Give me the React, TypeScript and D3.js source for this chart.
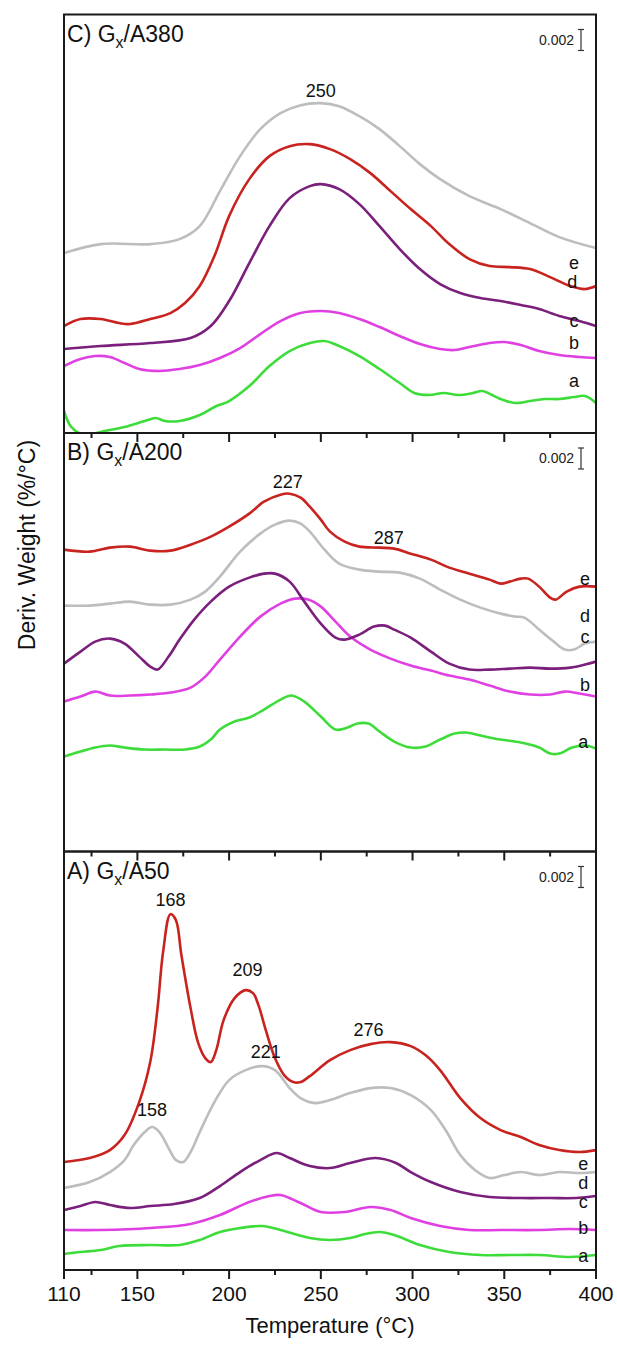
import React from 'react';
import * as d3 from 'd3';

// ---------- Axis / annotation data ----------
const T_DOMAIN: [number, number] = [110, 400];
const MAJOR_TICKS = [110, 150, 200, 250, 300, 350, 400];
const MINOR_TICKS = [125, 175, 225, 275, 325, 375];
// y values are stacked DTG signals in units where 21 units = 0.002 %/°C
const SCALE_BAR_VALUE = '0.002';
const SCALE_BAR_UNITS = 21;
const PANEL_Y_MAX = 418.7;

// ---------- Panel C) Gx/A380 ----------
const C_a = [[110,22],[114,6],[121,-2],[132,2],[143,6],[154,12],[160,15],[165,12],[173,12],[184,18],[192,26],[200,32],[211,47],[222,67],[233,82],[244,90],[252,92],[260,87],[271,77],[282,64],[293,50],[301,40],[309,38],[317,40],[325,38],[333,40],[338,42],[348,34],[356,30],[364,32],[372,34],[380,34],[388,36],[394,37],[400,30]];
const C_b = [[110,67],[119,74],[127,77],[135,76],[143,70],[151,64],[162,62],[173,64],[184,68],[195,75],[206,85],[217,99],[228,112],[239,120],[250,122],[260,120],[271,114],[282,106],[293,97],[304,89],[315,84],[323,83],[331,86],[342,90],[350,91],[359,88],[369,82],[380,78],[391,76],[400,75]];
const C_c = [[110,84],[130,87],[157,90],[179,95],[190,107],[200,132],[211,170],[222,207],[233,235],[244,247],[250,249],[260,244],[271,229],[282,207],[293,184],[304,164],[315,149],[326,140],[337,135],[348,132],[359,128],[369,124],[380,117],[391,112],[400,107]];
const C_d = [[110,107],[119,114],[130,114],[140,110],[146,109],[157,114],[168,120],[176,130],[184,147],[192,177],[200,217],[211,254],[222,277],[233,287],[244,289],[255,284],[266,274],[277,260],[288,242],[299,224],[310,207],[320,189],[331,174],[342,167],[353,166],[364,164],[375,156],[386,147],[394,144],[400,147]];
const C_e = [[110,180],[130,189],[157,189],[173,194],[184,207],[195,242],[206,277],[217,304],[228,320],[239,328],[250,330],[260,327],[271,317],[282,304],[293,287],[304,269],[315,254],[331,237],[348,224],[364,210],[380,196],[400,185]];
const C_peaks = [{ t: 250, v: 342, text: '250' }];
const C_letters = [{ k: 'e', t: 388, v: 170 }, { k: 'd', t: 387, v: 151 }, { k: 'c', t: 388, v: 112 }, { k: 'b', t: 388, v: 90 }, { k: 'a', t: 388, v: 52 }];

// ---------- Panel B) Gx/A200 ----------
const B_a = [[110,95],[119,100],[127,104],[135,106],[143,104],[154,102],[165,102],[176,102],[184,105],[190,112],[195,122],[203,130],[211,134],[219,142],[228,152],[234,156],[241,150],[250,135],[258,122],[263,123],[270,128],[276,128],[282,120],[290,110],[299,104],[307,105],[315,112],[323,118],[329,119],[337,116],[348,112],[359,109],[369,104],[375,98],[380,98],[387,104],[394,106],[400,103]];
const B_b = [[110,150],[119,155],[127,160],[135,156],[146,156],[157,157],[168,159],[179,164],[187,175],[195,192],[206,215],[217,235],[228,248],[236,253],[243,252],[250,245],[258,230],[266,215],[277,202],[288,193],[299,186],[310,181],[320,176],[331,172],[342,166],[353,160],[364,157],[375,157],[383,160],[391,158],[400,155]];
const B_c = [[110,188],[119,200],[127,210],[135,213],[143,208],[151,195],[157,185],[161,182],[167,195],[173,212],[181,232],[190,250],[200,265],[211,274],[219,278],[225,278],[233,270],[241,250],[250,228],[258,214],[263,212],[271,217],[279,225],[285,226],[290,222],[299,214],[310,200],[320,188],[331,182],[342,182],[353,183],[364,184],[375,183],[386,184],[394,187],[400,190]];
const B_d = [[110,246],[124,246],[135,248],[146,250],[157,247],[168,247],[179,252],[187,260],[195,275],[206,300],[217,318],[225,327],[233,331],[239,328],[244,320],[252,302],[260,288],[271,282],[282,280],[293,279],[304,273],[315,262],[326,252],[337,244],[348,238],[356,235],[361,234],[369,222],[377,210],[383,202],[388,202],[394,208],[400,210]];
const B_e = [[110,302],[124,300],[135,304],[146,305],[157,301],[168,301],[179,307],[190,315],[200,325],[211,338],[219,350],[228,357],[233,358],[239,354],[244,345],[250,332],[255,320],[263,310],[271,305],[282,304],[290,303],[299,298],[310,292],[320,284],[331,278],[342,272],[348,268],[353,270],[359,273],[363,273],[369,265],[375,254],[378,252],[384,260],[391,265],[400,265]];
const B_peaks = [{ t: 232, v: 370, text: '227' }, { t: 287, v: 314, text: '287' }];
const B_letters = [{ k: 'e', t: 394, v: 273 }, { k: 'd', t: 394, v: 236 }, { k: 'c', t: 394, v: 215 }, { k: 'b', t: 394, v: 167 }, { k: 'a', t: 393, v: 110 }];

// ---------- Panel A) Gx/A50 ----------
const A_a = [[110,16],[119,18],[130,20],[140,24],[157,25],[173,25],[184,30],[195,38],[206,42],[218,44],[228,40],[244,32],[255,30],[266,32],[274,36],[282,38],[290,35],[304,25],[320,18],[337,15],[353,15],[369,15],[386,13],[400,15]];
const A_b = [[110,40],[130,40],[157,42],[179,46],[195,55],[211,68],[222,74],[228,75],[239,67],[250,58],[263,58],[277,63],[288,60],[299,52],[315,44],[331,40],[348,40],[369,40],[386,41],[400,40]];
const A_c = [[110,60],[119,64],[127,68],[135,65],[146,62],[157,64],[170,66],[184,72],[195,84],[206,98],[217,110],[226,117],[233,112],[244,104],[255,102],[266,107],[280,112],[291,107],[299,98],[310,88],[326,78],[342,73],[359,72],[375,72],[389,72],[400,74]];
const A_d = [[110,82],[124,88],[135,98],[143,110],[148,125],[154,138],[158,143],[162,138],[167,122],[171,110],[175,108],[179,118],[184,138],[192,168],[200,190],[209,200],[218,204],[225,200],[233,182],[239,172],[247,167],[255,170],[266,177],[277,182],[288,182],[299,175],[310,160],[318,140],[326,115],[334,100],[342,92],[350,95],[359,98],[369,95],[380,98],[391,97],[400,98]];
const A_e = [[110,108],[124,112],[135,120],[143,135],[151,168],[157,208],[161,262],[164,318],[168,356],[171,350],[174,315],[179,262],[183,228],[187,212],[190,208],[193,220],[197,250],[203,272],[209,280],[213,277],[216,265],[220,240],[225,212],[230,195],[235,188],[239,188],[244,194],[255,210],[266,220],[277,226],[288,228],[299,224],[307,215],[315,200],[326,172],[337,152],[348,140],[359,133],[369,125],[380,120],[391,118],[400,120]];
const A_peaks = [{ t: 168, v: 370, text: '168' }, { t: 210, v: 300, text: '209' }, { t: 220, v: 218, text: '221' }, { t: 276, v: 240, text: '276' }, { t: 158, v: 160, text: '158' }];
const A_letters = [{ k: 'e', t: 393, v: 106 }, { k: 'd', t: 393, v: 87 }, { k: 'c', t: 393, v: 68 }, { k: 'b', t: 393, v: 42 }, { k: 'a', t: 393, v: 14 }];

const RED = '#c8231f';
const GRAY = '#bdbdbd';
const PURPLE = '#7a1f7c';
const MAGENTA = '#e040e2';
const GREEN = '#3edc3a';

const PANELS = [
  { id: 'C', name: 'A380', data: { a: C_a, b: C_b, c: C_c, d: C_d, e: C_e }, colors: { a: GREEN, b: MAGENTA, c: PURPLE, d: RED, e: GRAY }, peaks: C_peaks, letters: C_letters },
  { id: 'B', name: 'A200', data: { a: B_a, b: B_b, c: B_c, d: B_d, e: B_e }, colors: { a: GREEN, b: MAGENTA, c: PURPLE, d: GRAY, e: RED }, peaks: B_peaks, letters: B_letters },
  { id: 'A', name: 'A50', data: { a: A_a, b: A_b, c: A_c, d: A_d, e: A_e }, colors: { a: GREEN, b: MAGENTA, c: PURPLE, d: GRAY, e: RED }, peaks: A_peaks, letters: A_letters },
];

const W = 617;
const H = 1345;
const LEFT = 64;
const RIGHT = 596;
const TOP = 14.5;
const BOTTOM = 1270;
const FONT = '"Liberation Sans", Arial, sans-serif';

export default function App() {
  const x = d3.scaleLinear().domain(T_DOMAIN).range([LEFT, RIGHT]);
  const panelH = (BOTTOM - TOP) / PANELS.length;
  const drawOrder = ['a', 'b', 'c', 'd', 'e'];

  return (
    <svg width={W} height={H} style={{ position: 'absolute', left: 0, top: 0, background: '#fff' }} fontFamily={FONT}>
      <rect x={0} y={0} width={W} height={H} fill="#fff" />
      <defs>
        {PANELS.map((p, i) => (
          <clipPath id={`clip-${p.id}`} key={p.id}>
            <rect x={LEFT} y={TOP + i * panelH} width={RIGHT - LEFT} height={panelH} />
          </clipPath>
        ))}
      </defs>
      {PANELS.map((p, i) => {
        const top = TOP + i * panelH;
        const bottom = top + panelH;
        const y = d3.scaleLinear().domain([0, PANEL_Y_MAX]).range([bottom, top]);
        const line = d3
          .line<number[]>()
          .x((d) => x(d[0]))
          .y((d) => y(d[1]))
          .curve(d3.curveCatmullRom.alpha(0.5));
        const barTopV = PANEL_Y_MAX - 15;
        const barBotV = barTopV - SCALE_BAR_UNITS;
        const barX = 581;
        return (
          <g key={p.id}>
            <g clipPath={`url(#clip-${p.id})`}>
              {drawOrder.map((k) => (
                <path
                  key={k}
                  d={line((p.data as any)[k]) || ''}
                  fill="none"
                  stroke={(p.colors as any)[k]}
                  strokeWidth={2.6}
                  strokeLinejoin="round"
                />
              ))}
            </g>
            {/* frame */}
            <rect x={LEFT} y={top} width={RIGHT - LEFT} height={panelH} fill="none" stroke="#1a1a1a" strokeWidth={2} />
            {/* bottom ticks (outward) */}
            {MAJOR_TICKS.map((t) => (
              <line key={'M' + t} x1={x(t)} x2={x(t)} y1={bottom} y2={bottom + 9} stroke="#1a1a1a" strokeWidth={2} />
            ))}
            {MINOR_TICKS.map((t) => (
              <line key={'m' + t} x1={x(t)} x2={x(t)} y1={bottom} y2={bottom + 5} stroke="#1a1a1a" strokeWidth={2} />
            ))}
            {/* panel title */}
            <text x={LEFT + 3} y={top + 27} fontSize={23} fill="#111">
              {p.id}) G
              <tspan fontSize={16} dy={6}>x</tspan>
              <tspan dy={-6}>/{p.name}</tspan>
            </text>
            {/* scale bar */}
            <text x={574} y={y((barTopV + barBotV) / 2) + 5} fontSize={14} textAnchor="end" fill="#222">
              {SCALE_BAR_VALUE}
            </text>
            <line x1={barX} x2={barX} y1={y(barTopV)} y2={y(barBotV)} stroke="#333" strokeWidth={1.2} />
            <line x1={barX - 3} x2={barX + 3} y1={y(barTopV)} y2={y(barTopV)} stroke="#333" strokeWidth={1.2} />
            <line x1={barX - 3} x2={barX + 3} y1={y(barBotV)} y2={y(barBotV)} stroke="#333" strokeWidth={1.2} />
            {/* peak labels */}
            {p.peaks.map((pk) => (
              <text key={pk.text + pk.t} x={x(pk.t)} y={y(pk.v)} fontSize={18} textAnchor="middle" dominantBaseline="central" fill="#111">
                {pk.text}
              </text>
            ))}
            {/* curve letters */}
            {p.letters.map((l) => (
              <text key={l.k} x={x(l.t)} y={y(l.v)} fontSize={18} textAnchor="middle" dominantBaseline="central" fill="#111">
                {l.k}
              </text>
            ))}
          </g>
        );
      })}
      {/* x tick labels */}
      {MAJOR_TICKS.map((t) => (
        <text key={'l' + t} x={x(t)} y={BOTTOM + 31} fontSize={21} textAnchor="middle" fill="#111">
          {t}
        </text>
      ))}
      <text x={(LEFT + RIGHT) / 2} y={BOTTOM + 63} fontSize={22} textAnchor="middle" fill="#111">
        Temperature (°C)
      </text>
      <text transform={`translate(35, 545) rotate(-90)`} fontSize={23} textAnchor="middle" fill="#111">
        Deriv. Weight (%/°C)
      </text>
    </svg>
  );
}
